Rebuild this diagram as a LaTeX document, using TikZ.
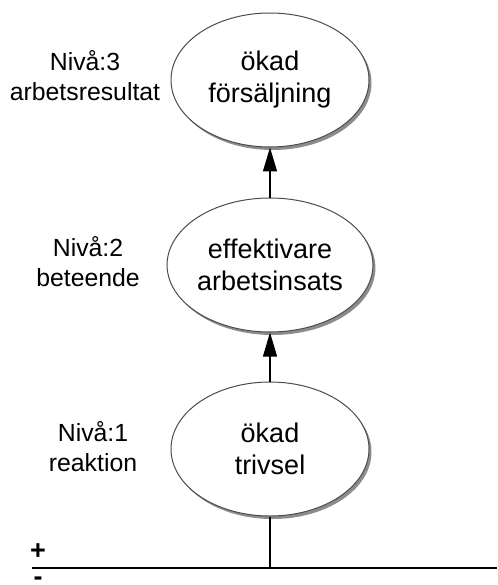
\documentclass[tikz,border=0pt]{standalone}
\usepackage{fontspec}
\setmainfont{Liberation Sans}
\usetikzlibrary{shapes.geometric,shadows,arrows.meta}
\begin{document}
\begin{tikzpicture}[x=1pt, y=-1pt,
    level/.style={ellipse, draw=black!70, line width=1pt, fill=white, minimum width=198pt, minimum height=134pt, inner sep=0pt, align=center, font=\fontsize{27}{32}\selectfont, drop shadow={shadow xshift=2.5pt, shadow yshift=-3pt, opacity=0.45, fill=black}},
    tag/.style={align=center, font=\fontsize{24.8}{30}\selectfont},
    sign/.style={inner sep=0pt, font=\fontsize{27}{27}\selectfont\bfseries},
    up/.style={line width=1.3pt, -{Triangle[length=24pt, width=14pt]}},
    axis/.style={line width=1.3pt}]
    \useasboundingbox (0,0) rectangle (497,585);
    \node [level] (res) at (270,80) {ökad\\försäljning};
    \node [level] (eff) at (270,265) {effektivare\\arbetsinsats};
    \node [level] (trv) at (270,449) {ökad\\trivsel};
    \draw [up] (eff) -- (res);
    \draw [up] (trv) -- (eff);

    \node [tag] (n3) at (85,76) {Nivå:3\\arbetsresultat};
    \node [tag] (n2) at (88,262) {Nivå:2\\beteende};
    \node [tag] (n1) at (93,447) {Nivå:1\\reaktion};

    \coordinate (axl) at (32,568);
    \coordinate (axr) at (497,568);
    \draw [axis] (axl) -- (axr);
    \draw [axis] (trv.south) -- (trv.south |- axl);
    \node [sign] (plus) at (38,552) {+};
    \node [sign, anchor=base] (minus) at (38,585) {-};
\end{tikzpicture}
\end{document}
